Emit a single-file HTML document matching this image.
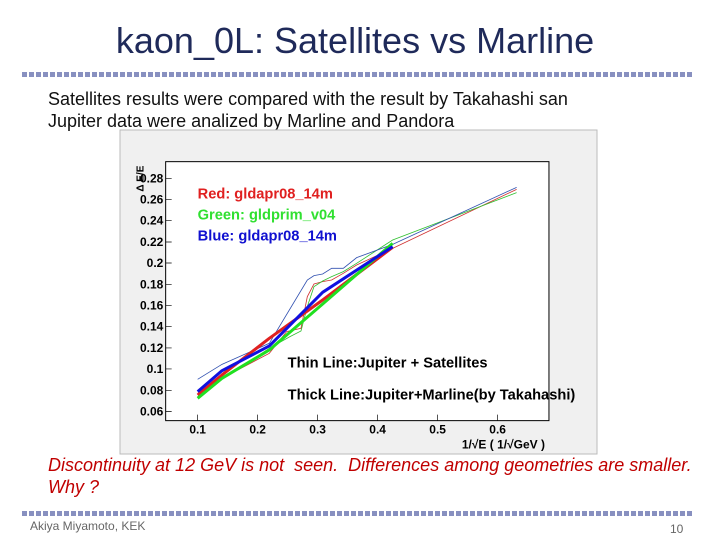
<!DOCTYPE html>
<html><head><meta charset="utf-8"><style>
body{margin:0;width:720px;height:540px;background:#fff;position:relative;overflow:hidden;font-family:"Liberation Sans",sans-serif}
.t{position:absolute;white-space:nowrap}
.dots{position:absolute;left:22px;width:670px;height:5px;background:repeating-linear-gradient(90deg,#8890c0 0 5px,transparent 5px 7px)}
</style></head><body>
<div class="t" style="left:0;width:710px;text-align:center;top:20px;font-size:36px;color:#1f2a5a">kaon_0L: Satellites vs Marline</div>
<div class="dots" style="top:72px"></div>
<div class="t" style="left:48px;top:89px;font-size:18px;color:#111">Satellites results were compared with the result by Takahashi san</div>
<div class="t" style="left:48px;top:111px;font-size:18px;color:#111">Jupiter data were analized by Marline and Pandora</div>
<svg style="position:absolute;left:0;top:0" width="720" height="540">
<rect x="120" y="130" width="477" height="324" fill="#f0f0f0" stroke="#bbb"/>
<g transform="translate(120,130) scale(0.3333)" font-family="Liberation Sans" font-weight="bold">
<rect x="137" y="95" width="1150" height="777" fill="#fff" stroke="#000" stroke-width="3"/>
<g font-size="36" text-anchor="end" fill="#000">
<text x="130" y="157">0.28</text><text x="130" y="220">0.26</text><text x="130" y="284">0.24</text><text x="130" y="348">0.22</text><text x="130" y="411">0.2</text><text x="130" y="475">0.18</text><text x="130" y="539">0.16</text><text x="130" y="602">0.14</text><text x="130" y="666">0.12</text><text x="130" y="729">0.1</text><text x="130" y="793">0.08</text><text x="130" y="857">0.06</text>
</g>
<g font-size="36" text-anchor="middle"><text x="233" y="910">0.1</text><text x="413" y="910">0.2</text><text x="593" y="910">0.3</text><text x="773" y="910">0.4</text><text x="953" y="910">0.5</text><text x="1133" y="910">0.6</text></g>
<text x="1275" y="955" font-size="36" text-anchor="end">1/√E ( 1/√GeV )</text>
<text transform="translate(70,185) rotate(-90)" font-size="30">Δ E/E</text>
<g stroke="#000" stroke-width="2">
<path d="M233 872v-18M413 872v-18M593 872v-18M773 872v-18M953 872v-18M1133 872v-18M137 145h18M137 208h18M137 272h18M137 336h18M137 399h18M137 463h18M137 527h18M137 590h18M137 654h18M137 717h18M137 781h18M137 845h18"/>
</g>
<g fill="none" stroke-width="2.5">
<polyline stroke="#d03030" points="233,790 306,745 448,670 500,605 543,595 562,500 582,462 608,455 635,450 670,430 710,405 818,355 1190,178"/>
<polyline stroke="#30c030" points="233,800 306,748 448,655 510,620 543,603 562,530 582,470 608,453 635,440 670,425 710,400 818,330 1190,188"/>
<polyline stroke="#3050b0" points="233,748 306,703 448,640 562,450 582,437 608,432 635,415 670,415 710,383 818,343 1190,172"/>
</g>
<g fill="none" stroke-width="9" stroke-linejoin="round">
<polyline stroke="#e02020" points="233,795 306,735 448,625 608,510 818,352"/>
<polyline stroke="#20e020" points="233,805 306,745 448,660 608,522 818,340"/>
<polyline stroke="#1010e0" points="233,785 306,722 448,648 608,487 818,350"/>
</g>
<text x="233" y="205" font-size="44" fill="#e02020">Red: gldapr08_14m</text>
<text x="233" y="268" font-size="44" fill="#30e030">Green: gldprim_v04</text>
<text x="233" y="332" font-size="44" fill="#1010d0">Blue: gldapr08_14m</text>
<text x="503" y="713" font-size="44" fill="#000">Thin Line:Jupiter + Satellites</text>
<text x="503" y="808" font-size="44" fill="#000">Thick Line:Jupiter+Marline(by Takahashi)</text>
</g>
</svg>
<div class="t" style="left:48px;top:455px;font-size:18px;color:#c00000;font-style:italic">Discontinuity at 12 GeV is not&nbsp; seen.&nbsp; Differences among geometries are smaller.</div>
<div class="t" style="left:48px;top:477px;font-size:18px;color:#c00000;font-style:italic">Why ?</div>
<div class="dots" style="top:511px"></div>
<div class="t" style="left:30px;top:519px;font-size:12px;color:#666">Akiya Miyamoto, KEK</div>
<div class="t" style="left:670px;top:522px;font-size:12px;color:#666">10</div>
</body></html>
